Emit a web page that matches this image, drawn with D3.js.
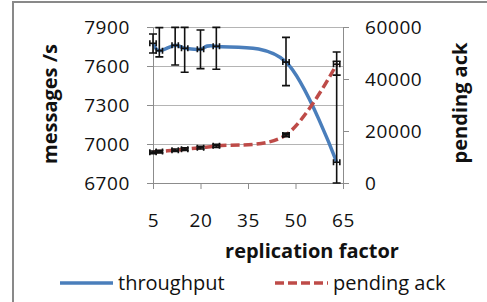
<!DOCTYPE html>
<html>
<head>
<meta charset="utf-8">
<script src="https://cdn.jsdelivr.net/npm/d3@7"></script>
<style>
  body { margin: 0; background: #fff; }
  svg text { font-family: "Open Sans", sans-serif; fill: #111; }
</style>
</head>
<body>
<script>
// data
var factor = [5, 7, 12, 15, 20, 25, 47, 63];
var throughput = [7775, 7718, 7760, 7736, 7728, 7752, 7630, 6860];
var tpLow  = [7700, 7670, 7608, 7552, 7580, 7575, 7449, 6700];
var tpHigh = [7846, 7895, 7897, 7897, 7877, 7897, 7820, 7708];
var pending = [11800, 12100, 12600, 13000, 13600, 14300, 18500, 45700];
var pendLow  = [11300, 11600, 12100, 12500, 13100, 13700, 17800, 41500];
var pendHigh = [12300, 12600, 13100, 13500, 14100, 14900, 19200, 46800];
var xErr = 1;
var leftTicks = [6700, 7000, 7300, 7600, 7900];
var rightTicks = [0, 20000, 40000, 60000];
var xTicks = [5, 20, 35, 50, 65];

var w = 487, h = 302;
var blue = "#4a7ebb", red = "#be4b48";
var fmt = d3.format("d");

var svg = d3.select("body").append("svg")
    .attr("width", w)
    .attr("height", h);

// outer frame
svg.append("path")
    .attr("d", "M13,302V2H487")
    .attr("fill", "none")
    .attr("stroke", "#898989")
    .attr("stroke-width", 2);

var x = d3.scaleLinear().domain([5, 65]).range([153, 343]);
var yL = d3.scaleLinear().domain([6700, 7900]).range([183, 27]);
var yR = d3.scaleLinear().domain([0, 60000]).range([183, 27]);

// gridlines
svg.append("g")
    .attr("transform", "translate(153,0)")
    .call(d3.axisLeft(yL).tickValues(leftTicks).tickSize(-190).tickFormat(""))
    .call(function(g) {
      g.select(".domain").remove();
      g.selectAll("line").attr("stroke", "#b4b4b4");
    });

function styleAxis(g) {
  g.select(".domain").attr("stroke", "#8c8c8c");
  g.selectAll(".tick line").attr("stroke", "#8c8c8c");
  g.selectAll("text")
    .attr("font-size", "19px")
    .attr("letter-spacing", "0.6px")
    .attr("fill", "#111");
}

svg.append("g")
    .attr("transform", "translate(153,0)")
    .call(d3.axisLeft(yL).tickValues(leftTicks).tickFormat(fmt).tickSize(6).tickSizeOuter(0).tickPadding(17))
    .call(styleAxis);

svg.append("g")
    .attr("transform", "translate(343,0)")
    .call(d3.axisRight(yR).tickValues(rightTicks).tickFormat(fmt).tickSize(6).tickSizeOuter(0).tickPadding(16))
    .call(styleAxis);

svg.append("g")
    .attr("transform", "translate(0,183)")
    .call(d3.axisBottom(x).tickValues(xTicks).tickFormat(fmt).tickSize(6).tickSizeOuter(0).tickPadding(25))
    .call(styleAxis);

// axis titles
svg.append("text")
    .attr("transform", "translate(57,104) rotate(-90)")
    .attr("text-anchor", "middle")
    .attr("font-size", "20px")
    .attr("font-weight", "bold")
    .text("messages /s");

svg.append("text")
    .attr("transform", "translate(467,103) rotate(-90)")
    .attr("text-anchor", "middle")
    .attr("font-size", "20px")
    .attr("font-weight", "bold")
    .text("pending ack");

svg.append("text")
    .attr("x", 312)
    .attr("y", 258)
    .attr("text-anchor", "middle")
    .attr("font-size", "20px")
    .attr("font-weight", "bold")
    .text("replication factor");

// series lines
var tpLine = d3.line()
    .x(function(d, i) { return x(factor[i]); })
    .y(function(d) { return yL(d); })
    .curve(d3.curveCardinal.tension(0));

var pendLine = d3.line()
    .x(function(d, i) { return x(factor[i]); })
    .y(function(d) { return yR(d); })
    .curve(d3.curveCardinal.tension(0));

svg.append("path")
    .attr("d", tpLine(throughput))
    .attr("fill", "none")
    .attr("stroke", blue)
    .attr("stroke-width", 3.5);

svg.append("path")
    .attr("d", pendLine(pending))
    .attr("fill", "none")
    .attr("stroke", red)
    .attr("stroke-width", 3.5)
    .attr("stroke-dasharray", "9,4");

// error bars
function errorBars(vals, lows, highs, y) {
  var g = svg.append("g")
      .attr("stroke", "#111")
      .attr("stroke-width", 1.6)
      .attr("fill", "none");
  vals.forEach(function(v, i) {
    var cx = x(factor[i]), cy = y(v);
    var y0 = y(lows[i]), y1 = y(highs[i]);
    g.append("path").attr("d",
      "M" + cx + "," + y0 + "V" + y1 +
      "M" + (cx - 4) + "," + y0 + "H" + (cx + 4) +
      "M" + (cx - 4) + "," + y1 + "H" + (cx + 4));
    var x0 = x(factor[i] - xErr), x1 = x(factor[i] + xErr);
    g.append("path").attr("d",
      "M" + x0 + "," + cy + "H" + x1 +
      "M" + x0 + "," + (cy - 3) + "V" + (cy + 3) +
      "M" + x1 + "," + (cy - 3) + "V" + (cy + 3));
  });
}
errorBars(throughput, tpLow, tpHigh, yL);
errorBars(pending, pendLow, pendHigh, yR);

// legend
var legend = svg.append("g");
legend.append("line")
    .attr("x1", 60).attr("x2", 113).attr("y1", 283).attr("y2", 283)
    .attr("stroke", blue).attr("stroke-width", 3.5);
legend.append("text")
    .attr("x", 118).attr("y", 290)
    .attr("font-size", "20px")
    .text("throughput");
legend.append("line")
    .attr("x1", 275).attr("x2", 328).attr("y1", 283).attr("y2", 283)
    .attr("stroke", red).attr("stroke-width", 3.5)
    .attr("stroke-dasharray", "9,4");
legend.append("text")
    .attr("x", 333).attr("y", 290)
    .attr("font-size", "20px")
    .text("pending ack");
</script>
</body>
</html>
